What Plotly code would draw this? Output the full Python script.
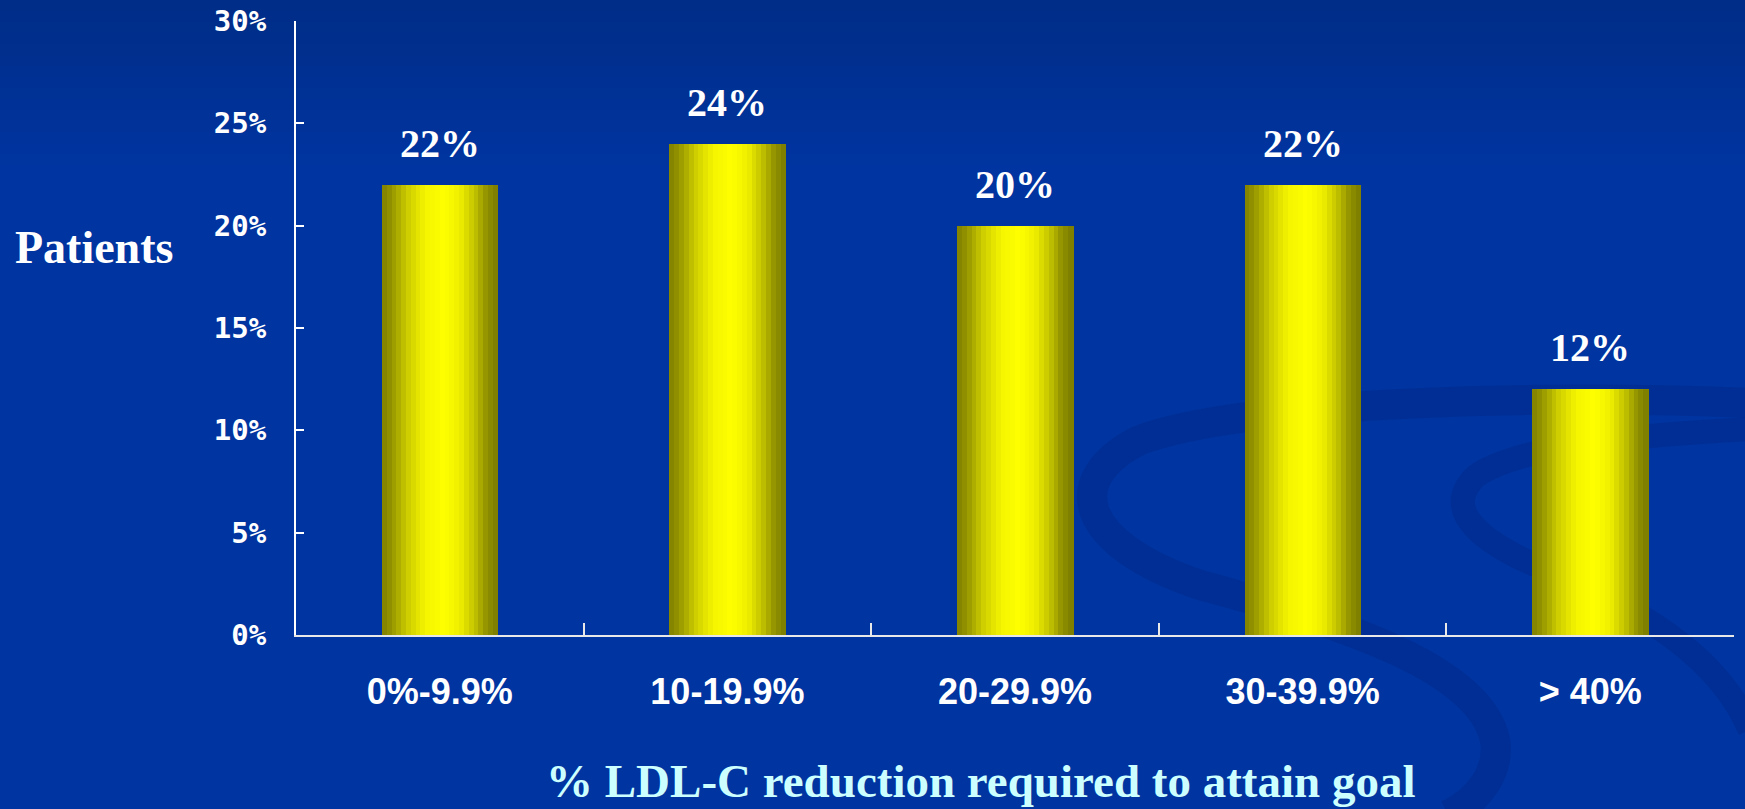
import numpy as np
import plotly.graph_objects as go

# Share of patients by LDL-C reduction needed to reach goal
categories = ["0%-9.9%", "10-19.9%", "20-29.9%", "30-39.9%", "> 40%"]
patients_pct = [22, 24, 20, 22, 12]
y_ticks = [0, 5, 10, 15, 20, 25, 30]
y_tick_labels = ["0%", "5%", "10%", "15%", "20%", "25%", "30%"]

W, H = 1745, 809
L, R, T, B = 296, 11, 21, 174
PW, PH = W - L - R, H - T - B

BG = "#0034A0"
SERIF = "Liberation Serif"
SANS = "Liberation Sans"
MONO = "DejaVu Sans Mono"


def paper(px, py):
    """Convert canvas pixel coordinates to paper coordinates."""
    return (px - L) / PW, (H - B - py) / PH


def path(points):
    cmds = []
    for cmd, pts in points:
        coords = " ".join("%.4f,%.4f" % paper(x, y) for x, y in pts)
        cmds.append(cmd + " " + coords)
    return " ".join(cmds)


fig = go.Figure()

# Cylinder shading: each bar is built from narrow vertical strips
bar_w = 0.403
n_strips = 24
stops_t = [0.0, 0.08, 0.22, 0.38, 0.54, 0.68, 0.80, 0.90, 1.0]
stops_b = [0.50, 0.58, 0.80, 0.96, 1.0, 0.93, 0.76, 0.58, 0.48]
strip_w = bar_w / n_strips
for i in range(n_strips):
    t = (i + 0.5) / n_strips
    b = float(np.interp(t, stops_t, stops_b))
    c = "rgb(%d,%d,0)" % (round(255 * b), round(255 * b))
    fig.add_trace(go.Bar(
        x=categories, y=patients_pct,
        width=strip_w * 1.15, offset=-bar_w / 2 + i * strip_w,
        marker=dict(color=c, line=dict(width=0)),
        showlegend=False, hoverinfo="skip" if i else "x+y",
    ))

# Value labels above the bars
annotations = []
for cat, v in zip(categories, patients_pct):
    annotations.append(dict(
        x=cat, y=v, xref="x", yref="y", text="%d%%" % v, showarrow=False,
        yanchor="bottom", yshift=17,
        font=dict(family=SERIF, size=40, color="white", weight="bold"),
    ))

# Axis titles
px_, py_ = paper(94, 247)
annotations.append(dict(
    x=px_, y=py_, xref="paper", yref="paper", text="Patients", showarrow=False,
    xanchor="center", yanchor="middle",
    font=dict(family=SERIF, size=46, color="white", weight="bold"),
))
px_, py_ = paper(981, 781)
annotations.append(dict(
    x=px_, y=py_, xref="paper", yref="paper",
    text="% LDL-C reduction required to attain goal", showarrow=False,
    xanchor="center", yanchor="middle",
    font=dict(family=SERIF, size=47, color="#CCFFFF", weight="bold"),
))

# Background: slightly darker band at the top fading into the slide blue
shapes = []
n_bands = 16
band_h = 11
for k in range(n_bands):
    f = k / (n_bands - 1)
    g = round(45 + (52 - 45) * f)
    bl = round(136 + (160 - 136) * f)
    x0, y0 = paper(-5, -10 if k == 0 else k * band_h)
    x1, y1 = paper(W + 5, (k + 1) * band_h + 1)
    shapes.append(dict(type="rect", xref="paper", yref="paper", x0=x0, y0=y0,
                       x1=x1, y1=y1, fillcolor="rgb(0,%d,%d)" % (g, bl),
                       line=dict(width=0), layer="below"))

# Decorative swirl ribbons in the lower right
swirl_col = "rgba(0,34,118,0.28)"
swirls = [
    [("M", [(1750, 403)]), ("C", [(1550, 395), (1250, 400), (1140, 440)]),
     ("C", [(1060, 480), (1080, 545), (1200, 585)]),
     ("C", [(1350, 625), (1480, 670), (1495, 740)]),
     ("C", [(1500, 770), (1480, 800), (1448, 815)])],
    [("M", [(1750, 429)]), ("C", [(1640, 435), (1520, 445), (1476, 476)]),
     ("C", [(1440, 510), (1480, 545), (1560, 575)]),
     ("C", [(1650, 615), (1720, 660), (1750, 730)])],
]
widths = [30, 24]
for sw, lw in zip(swirls, widths):
    shapes.append(dict(type="path", xref="paper", yref="paper", path=path(sw),
                       line=dict(color=swirl_col, width=lw), layer="below"))

fig.update_layout(
    width=W, height=H,
    margin=dict(l=L, r=R, t=T, b=B, pad=0, autoexpand=False),
    paper_bgcolor=BG, plot_bgcolor="rgba(0,0,0,0)",
    barmode="overlay", bargap=0,
    showlegend=False,
    annotations=annotations, shapes=shapes,
    xaxis=dict(
        type="category", categoryorder="array", categoryarray=categories,
        tickson="boundaries", ticks="inside", ticklen=12, tickwidth=2,
        tickcolor="#E8E8E8", showline=True, linecolor="#E8E8E8", linewidth=2,
        showgrid=False, zeroline=False, ticklabelstandoff=24, automargin=False,
        tickfont=dict(family=SANS, size=36, color="white", weight="bold"),
    ),
    yaxis=dict(
        range=[0, 30], tickvals=y_ticks, ticktext=y_tick_labels,
        ticks="inside", ticklen=8, tickwidth=2, tickcolor="white",
        showline=True, linecolor="white", linewidth=2, automargin=False,
        showgrid=False, zeroline=False, ticklabelstandoff=22,
        tickfont=dict(family=MONO, size=29, color="white", weight="bold"),
    ),
)

fig.write_html("out.html")
